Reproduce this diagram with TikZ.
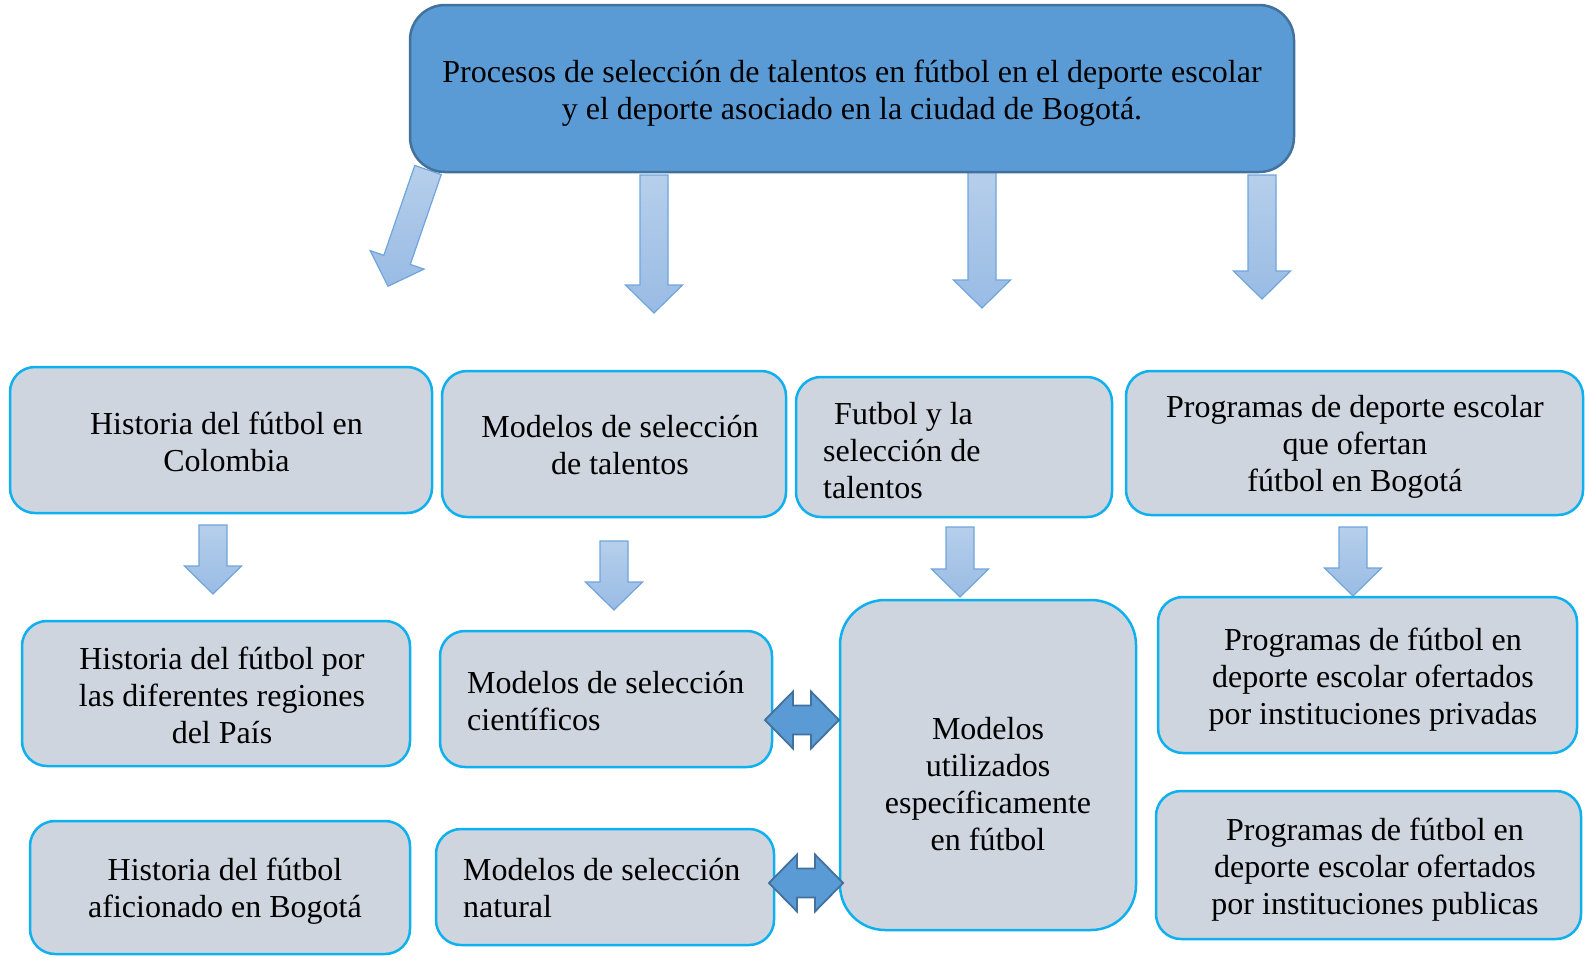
\documentclass[tikz,border=0pt]{standalone}
\usepackage{fontspec}
\setmainfont{Liberation Serif}
\definecolor{topfill}{HTML}{5B9BD5}
\definecolor{topline}{HTML}{41719C}
\definecolor{boxfill}{HTML}{CED5DF}
\definecolor{boxline}{HTML}{0FB0EE}
\definecolor{arrTop}{HTML}{B6CFEB}
\definecolor{arrBot}{HTML}{99BBE4}
\definecolor{arrLine}{HTML}{6FA5DC}
\newcommand\BArr[3]{%
  \path[barrow] (#1-14,#2) -- (#1-14,#3-28) -- (#1-28.5,#3-28) -- (#1,#3) -- (#1+28.5,#3-28) -- (#1+14,#3-28) -- (#1+14,#2) -- cycle;}
\newcommand\DArr[2]{%
  \path[darrow] (#1-37,#2) -- (#1-9,#2-28.5) -- (#1-9,#2-14.5) -- (#1+9,#2-14.5) -- (#1+9,#2-28.5) -- (#1+37,#2) -- (#1+9,#2+28.5) -- (#1+9,#2+14.5) -- (#1-9,#2+14.5) -- (#1-9,#2+28.5) -- cycle;}
\begin{document}
\begin{tikzpicture}[x=1pt,y=-1pt,
  every node/.style={font=\fontsize{32}{37}\selectfont, inner sep=0pt},
  box/.style={draw=boxline, line width=2.5pt, fill=boxfill, rounded corners=25pt, rectangle},
  topbox/.style={draw=topline, line width=2.5pt, fill=topfill, rounded corners=35pt, rectangle},
  barrow/.style={draw=arrLine, line width=1.2pt, top color=arrTop, bottom color=arrBot},
  darrow/.style={draw=topline, line width=1.8pt, fill=topfill},
  txt/.style={align=center},
  ltxt/.style={align=left, anchor=west}]
\useasboundingbox (0,0) rectangle (1586,959);
% block arrows from the title
\begin{scope}[shift={(428,170)}, rotate=-19]
  \BArr{0}{0}{123}
\end{scope}
\BArr{654}{175}{313}
\BArr{982}{170}{308}
\BArr{1262}{175}{299}
% title
\node[topbox, minimum width=884pt, minimum height=167pt] (title) at (852,88.5) {};
\node[txt] (ttitle) at (852,93.5) {Procesos de selección de talentos en fútbol en el deporte escolar\\y el deporte asociado en la ciudad de Bogotá.};
% second row
\node[box, minimum width=422pt, minimum height=146pt] (A) at (221,440) {};
\node[box, minimum width=344pt, minimum height=146pt] (B) at (614,444) {};
\node[box, minimum width=316pt, minimum height=140pt] (C) at (954,447) {};
\node[box, minimum width=457pt, minimum height=144pt] (D) at (1354.5,443) {};
\node[txt] (tA) at (226.5,441.5) {Historia del fútbol en\\Colombia};
\node[txt] (tB) at (620,445) {Modelos de selección\\de talentos};
\node[ltxt] (tC) at (823,451) {\hspace*{11pt}Futbol y la\\selección de\\talentos};
\node[txt] (tD) at (1355,447) {Programas de deporte escolar\\que ofertan\\fútbol en Bogotá};
% small arrows
\BArr{213}{525}{594}
\BArr{614}{541}{610}
\BArr{960}{527}{597}
\BArr{1353}{527}{596}
% third rows
\node[box, minimum width=388pt, minimum height=145pt] (A2) at (216,693.5) {};
\node[box, minimum width=380pt, minimum height=133pt] (A3) at (220,887.5) {};
\node[box, minimum width=332pt, minimum height=136pt] (B2) at (606,699) {};
\node[box, minimum width=338pt, minimum height=116pt] (B3) at (605,887) {};
\node[box, minimum width=296pt, minimum height=330pt, rounded corners=45pt] (C2) at (988,765) {};
\node[box, minimum width=419pt, minimum height=156pt] (D2) at (1367.5,675) {};
\node[box, minimum width=425pt, minimum height=148pt] (D3) at (1368.5,865) {};
\node[txt] (tA2) at (222,695) {Historia del fútbol por\\las diferentes regiones\\del País};
\node[txt] (tA3) at (225,891.5) {Historia del fútbol\\aficionado en Bogotá};
\node[ltxt] (tB2) at (467,701) {Modelos de selección\\científicos};
\node[ltxt] (tB3) at (463,888) {Modelos de selección\\natural};
\node[txt] (tC2) at (988,784) {Modelos\\utilizados\\específicamente\\en fútbol};
\node[txt] (tD2) at (1373,679.5) {Programas de fútbol en\\deporte escolar ofertados\\por instituciones privadas};
\node[txt] (tD3) at (1375,870) {Programas de fútbol en\\deporte escolar ofertados\\por instituciones publicas};
% double arrows
\DArr{802}{720}
\DArr{806}{883}
\end{tikzpicture}
\end{document}
